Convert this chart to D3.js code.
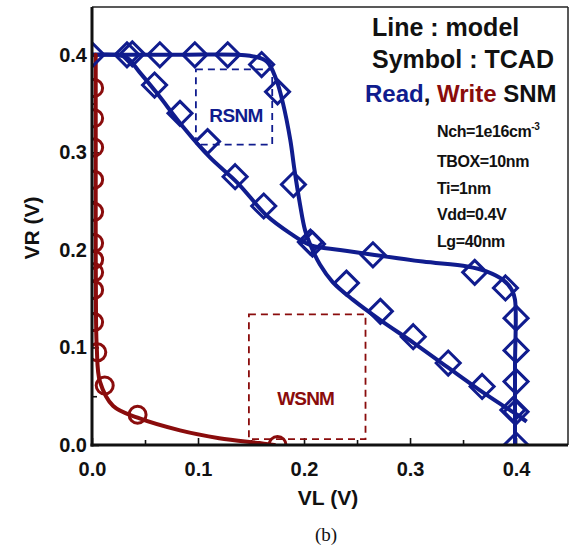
<!DOCTYPE html>
<html>
<head>
<meta charset="utf-8">
<script src="https://cdn.jsdelivr.net/npm/d3@7"></script>
<style>
    body { margin: 0; background: #fff; }
    svg text { font-family: "Liberation Sans", Arial, sans-serif; }
    .axis text { font-weight: bold; font-size: 20px; fill: #111; font-family: "Liberation Sans", Arial, sans-serif; }
    .axis line { stroke: #111; stroke-width: 1.6px; }
</style>
</head>
<body>
<div id="chart"></div>
<script>
// Model curves (lines)
var readModel1 = [[0.0, 0.4], [0.08, 0.4], [0.149, 0.399], [0.165, 0.393], [0.174, 0.374], [0.18, 0.351], [0.187, 0.313],
    [0.191, 0.282], [0.196, 0.248], [0.201, 0.22], [0.206, 0.205], [0.215, 0.185], [0.227, 0.167], [0.246, 0.149],
    [0.272, 0.128], [0.303, 0.105], [0.335, 0.080], [0.366, 0.056], [0.391, 0.038], [0.401, 0.031], [0.41, 0.024]];
var readModel2 = [[0.0, 0.4], [0.022, 0.4], [0.033, 0.397], [0.045, 0.382], [0.061, 0.361], [0.086, 0.326], [0.111, 0.295],
    [0.137, 0.269], [0.165, 0.235], [0.187, 0.217], [0.206, 0.205], [0.234, 0.2], [0.265, 0.195], [0.312, 0.188],
    [0.354, 0.183], [0.372, 0.178], [0.388, 0.169], [0.396, 0.159], [0.399, 0.149], [0.399, 0.08], [0.399, 0.0]];
var writeModel = [[0.0035, 0.4], [0.0035, 0.3], [0.0035, 0.2], [0.0038, 0.13], [0.0045, 0.1], [0.0075, 0.065], [0.02, 0.04],
    [0.043, 0.028], [0.083, 0.015], [0.12, 0.007], [0.158, 0.002], [0.172, 0.0]];

// TCAD results (symbols)
var readTcad1 = [[0.0, 0.4], [0.038, 0.401], [0.064, 0.4], [0.097, 0.4], [0.128, 0.4], [0.160, 0.39], [0.175, 0.362],
    [0.19, 0.267], [0.206, 0.208], [0.24, 0.166], [0.272, 0.137], [0.303, 0.111], [0.336, 0.084], [0.368, 0.060], [0.397, 0.036]];
var readTcad2 = [[0.033, 0.4], [0.059, 0.369], [0.083, 0.34], [0.109, 0.311], [0.135, 0.275], [0.162, 0.245], [0.208, 0.206],
    [0.265, 0.195], [0.361, 0.177], [0.39, 0.161], [0.4, 0.13], [0.4, 0.097], [0.4, 0.065], [0.4, 0.034], [0.4, 0.0]];
var writeTcad = [[0.002, 0.366], [0.002, 0.335], [0.002, 0.305], [0.002, 0.272], [0.002, 0.239], [0.002, 0.207], [0.002, 0.190],
    [0.002, 0.177], [0.002, 0.159], [0.002, 0.126], [0.005, 0.095], [0.012, 0.061], [0.043, 0.031], [0.175, 0.0]];

// margin boxes [x0, y0, x1, y1]
var rsnmBox = [0.098, 0.308, 0.17, 0.385];
var wsnmBox = [0.148, 0.006, 0.258, 0.134];

var xTicks = [0, 0.1, 0.2, 0.3, 0.4];
var yTicks = [0, 0.1, 0.2, 0.3, 0.4];
var minorTicks = [0.05, 0.15, 0.25, 0.35];

var paramLines = ['TBOX=10nm', 'Ti=1nm', 'Vdd=0.4V', 'Lg=40nm'];

var cfg = {
    'width': 573, 'height': 550,
    'margin': {'top': 7, 'right': 5, 'bottom': 105, 'left': 92},
    'blue': '#101c8e',
    'red': '#8a0c0c',
    'domain': 0.449
};

var w = cfg.width - cfg.margin.left - cfg.margin.right,
    h = cfg.height - cfg.margin.top - cfg.margin.bottom;

var x = d3.scaleLinear().domain([0, cfg.domain]).range([0, w]);
var y = d3.scaleLinear().domain([0, cfg.domain]).range([h, 0]);

var svg = d3.select('#chart').append('svg')
    .attr('width', cfg.width)
    .attr('height', cfg.height);

svg.append('defs').append('clipPath').attr('id', 'plotclip')
    .append('rect').attr('x', 0).attr('y', 0).attr('width', w).attr('height', h);

var g = svg.append('g')
    .attr('transform', 'translate(' + cfg.margin.left + ',' + cfg.margin.top + ')');

// AXIS (inward ticks)
g.append('g').attr('class', 'axis axis--x')
    .attr('transform', 'translate(0,' + h + ')')
    .call(d3.axisBottom(x).tickValues(xTicks).tickSize(-7).tickPadding(17).tickFormat(d3.format('.1f')));
g.append('g').attr('class', 'axis')
    .attr('transform', 'translate(0,' + h + ')')
    .call(d3.axisBottom(x).tickValues(minorTicks).tickSize(-5).tickFormat(''));
g.append('g').attr('class', 'axis axis--y')
    .call(d3.axisLeft(y).tickValues(yTicks).tickSize(-7).tickPadding(5).tickFormat(d3.format('.1f')));
g.append('g').attr('class', 'axis')
    .call(d3.axisLeft(y).tickValues(minorTicks).tickSize(-5).tickFormat(''));
g.selectAll('.axis .domain').remove();

var plot = g.append('g').attr('clip-path', 'url(#plotclip)');

// BOXES
function drawBox(b, color) {
    plot.append('rect')
        .attr('x', x(b[0])).attr('y', y(b[3]))
        .attr('width', x(b[2]) - x(b[0])).attr('height', y(b[1]) - y(b[3]))
        .attr('fill', 'none').attr('stroke', color)
        .attr('stroke-width', 1.8).attr('stroke-dasharray', '7,5');
}
drawBox(rsnmBox, cfg.blue);
drawBox(wsnmBox, cfg.red);

// LINES
var line = d3.line()
    .x(function(d) { return x(d[0]); })
    .y(function(d) { return y(d[1]); })
    .curve(d3.curveCatmullRom.alpha(0.5));

[readModel1, readModel2].forEach(function(s) {
    plot.append('path').attr('d', line(s)).attr('fill', 'none')
        .attr('stroke', cfg.blue).attr('stroke-width', 4).attr('stroke-linejoin', 'round');
});
plot.append('path').attr('d', line(writeModel)).attr('fill', 'none')
    .attr('stroke', cfg.red).attr('stroke-width', 4).attr('stroke-linecap', 'round');

// SYMBOLS
var dsize = 12;
readTcad1.concat(readTcad2).forEach(function(d) {
    var cx = x(d[0]), cy = y(d[1]);
    plot.append('path')
        .attr('d', 'M' + cx + ',' + (cy - dsize) + 'L' + (cx + dsize) + ',' + cy + 'L' + cx + ',' + (cy + dsize) + 'L' + (cx - dsize) + ',' + cy + 'Z')
        .attr('fill', 'none').attr('stroke', cfg.blue).attr('stroke-width', 3);
});
plot.selectAll('.circ').data(writeTcad).enter().append('circle')
    .attr('class', 'circ')
    .attr('cx', function(d) { return x(d[0]); })
    .attr('cy', function(d) { return y(d[1]); })
    .attr('r', 8.5)
    .attr('fill', 'none').attr('stroke', cfg.red).attr('stroke-width', 3);

// FRAME: thick left/bottom axes, thin top/right border
g.append('line').attr('x1', 0).attr('x2', w).attr('y1', 0).attr('y2', 0).attr('stroke', '#222').attr('stroke-width', 1.5);
g.append('line').attr('x1', w).attr('x2', w).attr('y1', 0).attr('y2', h).attr('stroke', '#222').attr('stroke-width', 1.5);
g.append('line').attr('x1', 0).attr('x2', 0).attr('y1', 0).attr('y2', h + 1.5).attr('stroke', '#111').attr('stroke-width', 3);
g.append('line').attr('x1', -1.5).attr('x2', w).attr('y1', h).attr('y2', h).attr('stroke', '#111').attr('stroke-width', 3);

// BOX LABELS
g.append('text').attr('x', x((rsnmBox[0] + rsnmBox[2]) / 2) + 2).attr('y', y(0.331))
    .attr('text-anchor', 'middle').attr('font-weight', 'bold').attr('font-size', 19)
    .attr('fill', cfg.blue).attr('letter-spacing', -0.6).text('RSNM');
g.append('text').attr('x', x(0.2015)).attr('y', y(0.041))
    .attr('text-anchor', 'middle').attr('font-weight', 'bold').attr('font-size', 19)
    .attr('fill', cfg.red).attr('letter-spacing', -0.8).text('WSNM');

// LEGEND
svg.append('text').attr('x', 372).attr('y', 36).attr('font-weight', 'bold').attr('font-size', 25)
    .attr('fill', '#111').text('Line : model');
svg.append('text').attr('x', 372).attr('y', 68).attr('font-weight', 'bold').attr('font-size', 25)
    .attr('fill', '#111').text('Symbol : TCAD');
var rw = svg.append('text').attr('x', 365).attr('y', 102).attr('font-weight', 'bold').attr('font-size', 24);
rw.append('tspan').attr('fill', cfg.blue).text('Read');
rw.append('tspan').attr('fill', '#111').text(', ');
rw.append('tspan').attr('fill', cfg.red).text('Write');
rw.append('tspan').attr('fill', '#111').text(' SNM');

var nch = svg.append('text').attr('x', 437).attr('y', 137).attr('font-weight', 'bold').attr('font-size', 16)
    .attr('fill', '#111').attr('letter-spacing', -0.4);
nch.append('tspan').text('Nch=1e16cm');
nch.append('tspan').attr('font-size', 10).attr('dy', -7).text('-3');
paramLines.forEach(function(t, i) {
    svg.append('text').attr('x', 437).attr('y', 167 + i * 26.7).attr('font-weight', 'bold').attr('font-size', 16)
        .attr('fill', '#111').attr('letter-spacing', -0.4).text(t);
});

// AXIS TITLES
svg.append('text').attr('x', 328).attr('y', 505).attr('text-anchor', 'middle')
    .attr('font-weight', 'bold').attr('font-size', 21).attr('fill', '#111').text('VL (V)');
svg.append('text').attr('transform', 'translate(39,228) rotate(-90)').attr('text-anchor', 'middle')
    .attr('font-weight', 'bold').attr('font-size', 21).attr('fill', '#111').text('VR (V)');
svg.append('text').attr('x', 326).attr('y', 541).attr('text-anchor', 'middle')
    .style('font-family', '"Liberation Serif", "Times New Roman", serif').attr('font-size', 19)
    .attr('fill', '#111').text('(b)');
</script>
</body>
</html>
